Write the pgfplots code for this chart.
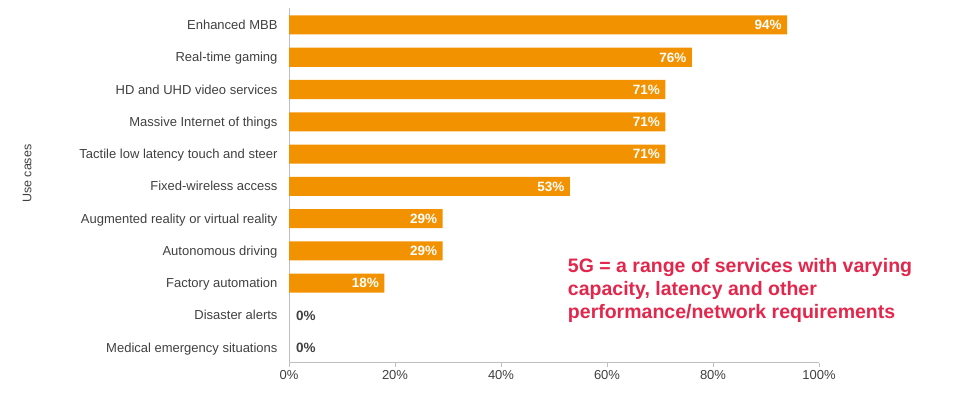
\documentclass[border=0pt]{standalone}
\usepackage{fontspec}
\setmainfont{Liberation Sans}
\usepackage{pgfplots}
\pgfplotsset{compat=1.18}
\definecolor{barorange}{HTML}{F39200}
\definecolor{txtgrey}{HTML}{404040}
\definecolor{axgrey}{HTML}{BFBFBF}
\definecolor{annred}{HTML}{E3264B}
\begin{document}
\begin{tikzpicture}
\begin{axis}[
  scale only axis,
  width=530pt, height=355pt,
  xbar, bar shift=0pt, bar width=0.59,
  xmin=0, xmax=100, ymin=-0.47, ymax=10.53,
  axis x line=bottom, axis y line=left,
  axis line style={-, draw=axgrey, line width=0.8pt},
  xtick={0,20,40,60,80,100},
  xticklabels={0\%,20\%,40\%,60\%,80\%,100\%},
  x tick label style={font=\fontsize{13}{15}\selectfont, text=txtgrey},
  xtick style={draw=axgrey, line width=0.8pt},
  tick align=outside, major tick length=4pt,
  ytick={0,...,10},
  yticklabels={Medical emergency situations, Disaster alerts, Factory automation, Autonomous driving, Augmented reality or virtual reality, Fixed-wireless access, Tactile low latency touch and steer, Massive Internet of things, HD and UHD video services, Real-time gaming, Enhanced MBB},
  y tick label style={font=\fontsize{13}{15}\selectfont, text=txtgrey, xshift=-4pt, text height=9.5pt, text depth=0.5pt},
  ytick style={draw=none},
  /pgf/number format/assume math mode=true,
  point meta=x,
  clip=false,
]
\addplot[fill=barorange, draw=none,
  nodes near coords={\pgfmathprintnumber{\pgfplotspointmeta}\%},
  every node near coord/.append style={anchor=east, xshift=-2pt, text=white, text height=9.8pt, text depth=0.2pt, font=\bfseries\fontsize{13.5}{15}\selectfont}]
  coordinates {(18,2) (29,3) (29,4) (53,5) (71,6) (71,7) (71,8) (76,9) (94,10)};
\addplot[fill=none, draw=none,
  nodes near coords={\pgfmathprintnumber{\pgfplotspointmeta}\%},
  every node near coord/.append style={anchor=west, xshift=3.5pt, text=txtgrey, text height=9.8pt, text depth=0.2pt, font=\bfseries\fontsize{13.5}{15}\selectfont}]
  coordinates {(0,0) (0,1)};
\node[rotate=90, text=txtgrey, font=\fontsize{12.5}{14}\selectfont] at (axis cs:-49.4,5.39) {Use cases};
\node[anchor=north west, align=left, text=annred, font=\bfseries\fontsize{19.5}{23}\selectfont, inner sep=0pt]
  at (axis cs:52.6,2.78) {5G = a range of services with varying\\capacity, latency and other\\performance/network requirements};
\coordinate (bl) at (axis cs:-54.53,-1.393);
\coordinate (tr) at (axis cs:129.43,10.774);
\end{axis}
\pgfresetboundingbox
\useasboundingbox (bl) rectangle (tr);
\end{tikzpicture}
\end{document}
